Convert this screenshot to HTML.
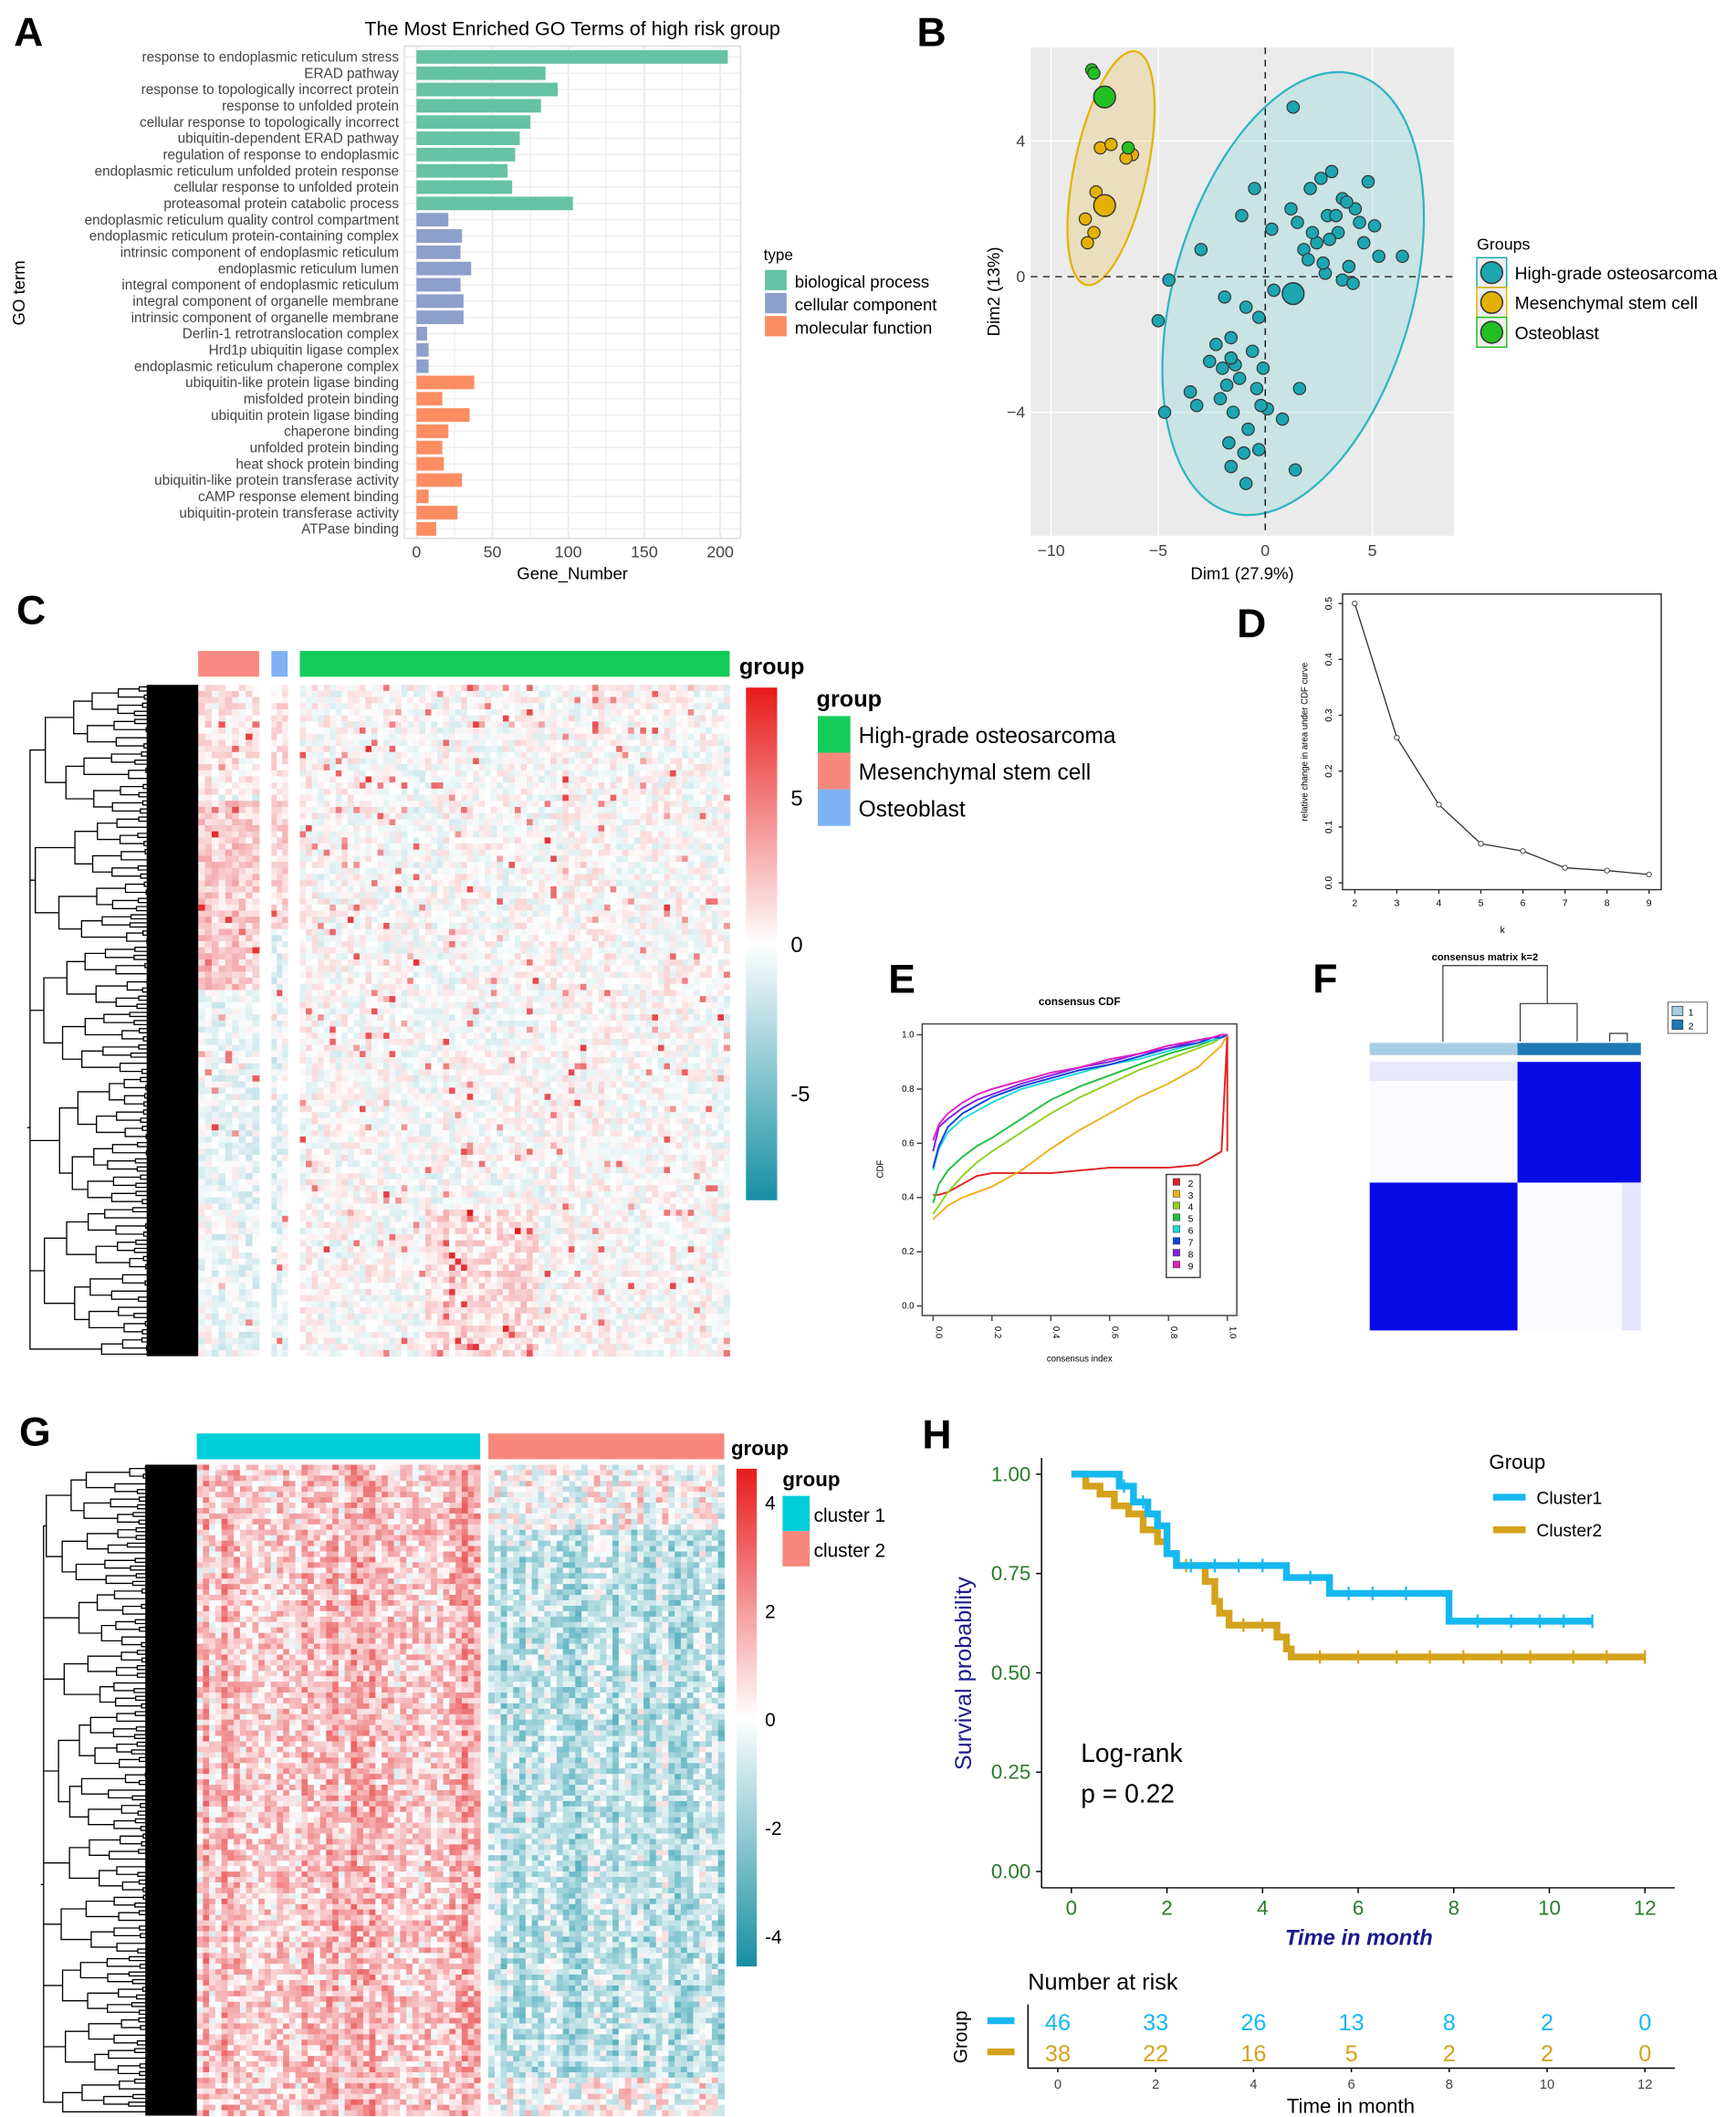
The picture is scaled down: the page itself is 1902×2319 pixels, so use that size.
<!DOCTYPE html>
<html><head><meta charset="utf-8"><style>
html,body{margin:0;padding:0;background:#fff}
svg{display:block}
text{font-family:"Liberation Sans",Arial,sans-serif}
</style></head><body>
<svg id="fig" width="1902" height="2319" viewBox="0 0 1280 1561" xmlns="http://www.w3.org/2000/svg">
<g id="gA"></g>
<g id="gB"></g>
<g id="gC"></g>
<g id="gD"></g>
<g id="gE"></g>
<g id="gF"></g>
<g id="gG"></g>
<g id="gH"></g>
</svg>
<script>
// ---------- data ----------
const goTerms = ["response to endoplasmic reticulum stress","ERAD pathway","response to topologically incorrect protein","response to unfolded protein","cellular response to topologically incorrect","ubiquitin-dependent ERAD pathway","regulation of response to endoplasmic","endoplasmic reticulum unfolded protein response","cellular response to unfolded protein","proteasomal protein catabolic process","endoplasmic reticulum quality control compartment","endoplasmic reticulum protein-containing complex","intrinsic component of endoplasmic reticulum","endoplasmic reticulum lumen","integral component of endoplasmic reticulum","integral component of organelle membrane","intrinsic component of organelle membrane","Derlin-1 retrotranslocation complex","Hrd1p ubiquitin ligase complex","endoplasmic reticulum chaperone complex","ubiquitin-like protein ligase binding","misfolded protein binding","ubiquitin protein ligase binding","chaperone binding","unfolded protein binding","heat shock protein binding","ubiquitin-like protein transferase activity","cAMP response element binding","ubiquitin-protein transferase activity","ATPase binding"];
const goCounts = [205,85,93,82,75,68,65,60,63,103,21,30,29,36,29,31,31,7,8,8,38,17,35,21,17,18,30,8,27,13];
const goTypes = [0,0,0,0,0,0,0,0,0,0,1,1,1,1,1,1,1,1,1,1,2,2,2,2,2,2,2,2,2,2];
const goTicks = [0,50,100,150,200];

const pcaHGx=[-0.5,1.2,2.1,2.6,3.1,3.6,2.9,4.2,4.8,3.4,2.4,1.8,2.8,3.9,4.4,5.3,1.5,2.2,3.3,3.8,2.7,4.6,5.1,6.4,3.0,2.0,3.6,4.1,-1.1,-3.0,-4.5,0.3,-1.9,-0.9,-0.3,0.4,-1.6,-2.3,-1.4,-0.6,-0.1,-2.6,-1.8,-0.4,-1.2,0.1,-2.1,-3.2,-1.5,0.8,1.6,-0.8,-1.0,-0.3,-1.6,-3.5,-4.7,-5.0,-2.0,-0.9,-1.7,1.4,-1.6,1.3,-0.2];
const pcaHGy=[2.6,2.0,2.6,2.9,3.1,2.3,1.8,2.0,2.8,1.3,1.0,0.8,0.1,0.3,1.6,0.6,1.6,1.3,1.8,2.2,0.4,1.0,1.5,0.6,1.1,0.5,-0.1,-0.2,1.8,0.8,-0.1,1.4,-0.6,-0.9,-1.2,-0.4,-1.8,-2.0,-2.6,-2.2,-2.7,-2.5,-3.2,-3.3,-3.0,-3.9,-3.6,-3.8,-4.0,-4.2,-3.3,-4.5,-5.2,-5.1,-5.6,-3.4,-4.0,-1.3,-2.7,-6.1,-4.9,-5.7,-2.4,5.0,-3.8];
const pcaMSx=[-7.7,-8.4,-8.3,-7.9,-6.2,-7.2,-6.5,-7.5,-8.0];
const pcaMSy=[3.8,1.7,1.0,2.5,3.6,3.9,3.5,2.1,1.3];
const pcaOBx=[-8.1,-8.0,-7.6,-6.4];
const pcaOBy=[6.1,6.0,5.3,3.8];
const pcaXTicks=[-10,-5,0,5];
const pcaYTicks=[4,0,-4];

const dK=[2,3,4,5,6,7,8,9];
const dVal=[0.5,0.26,0.14,0.07,0.057,0.027,0.022,0.015];
const dYTicks=[0,0.1,0.2,0.3,0.4,0.5];

const eX=[0,0.02,0.05,0.1,0.15,0.2,0.3,0.4,0.5,0.6,0.7,0.8,0.9,0.95,0.98,1.0];
const eK2=[0.41,0.41,0.42,0.45,0.48,0.49,0.49,0.49,0.5,0.51,0.51,0.51,0.52,0.55,0.57,1.0];
const eK3=[0.32,0.34,0.37,0.40,0.42,0.44,0.50,0.58,0.65,0.71,0.77,0.82,0.88,0.93,0.96,1.0];
const eK4=[0.34,0.37,0.42,0.48,0.53,0.57,0.64,0.71,0.77,0.82,0.87,0.91,0.95,0.97,0.99,1.0];
const eK5=[0.38,0.45,0.5,0.55,0.59,0.62,0.69,0.76,0.81,0.85,0.89,0.93,0.96,0.98,0.99,1.0];
const eK6=[0.50,0.58,0.64,0.69,0.72,0.75,0.8,0.83,0.86,0.89,0.91,0.94,0.97,0.98,0.99,1.0];
const eK7=[0.51,0.59,0.66,0.71,0.74,0.77,0.81,0.84,0.87,0.89,0.92,0.95,0.97,0.99,0.99,1.0];
const eK8=[0.57,0.66,0.69,0.73,0.76,0.78,0.82,0.85,0.88,0.9,0.93,0.95,0.98,0.99,1.0,1.0];
const eK9=[0.61,0.67,0.71,0.75,0.78,0.8,0.83,0.86,0.88,0.91,0.93,0.96,0.98,0.99,1.0,1.0];
const eTicks=[0,0.2,0.4,0.6,0.8,1.0];

const kmT1=[0,1.0,1.3,1.6,1.8,2.0,2.2,4.5,5.4,7.9,10.9];
const kmS1=[1,0.97,0.93,0.9,0.87,0.8,0.77,0.74,0.70,0.63,0.63];
const kmT2=[0,0.3,0.6,0.9,1.2,1.5,1.8,2.0,2.2,2.8,3.0,3.1,3.3,4.3,4.5,4.6,12];
const kmS2=[1,0.97,0.95,0.92,0.9,0.86,0.83,0.8,0.77,0.73,0.68,0.65,0.62,0.59,0.56,0.54,0.54];
const kmCens1=[1.1,1.5,2.5,3.0,3.5,4.0,5.0,5.8,6.3,7.0,8.5,9.2,9.8,10.3,10.9];
const kmCens2=[2.4,3.6,4.0,5.2,6.0,6.8,7.5,8.2,9.0,9.6,10.5,11.2,12];
const kmXTicks=[0,2,4,6,8,10,12];
const kmYTicks=[0,0.25,0.5,0.75,1.0];
const riskTimes=[0,2,4,6,8,10,12];
const risk1=[46,33,26,13,8,2,0];
const risk2=[38,22,16,5,2,2,0];

// ---------- helpers ----------
const NS="http://www.w3.org/2000/svg";
function mk(parent,tag,attrs,txt){const e=document.createElementNS(NS,tag);for(const k in attrs)e.setAttribute(k,attrs[k]);if(txt!==undefined)e.textContent=txt;parent.appendChild(e);return e;}
let seed=12345;function rnd(){seed=(seed*1103515245+12345)&0x7fffffff;return seed/0x7fffffff;}
function lin(d0,d1,r0,r1){return v=>r0+(v-d0)*(r1-r0)/(d1-d0);}

// ---------- Panel A ----------
(function(){
const g=document.getElementById('gA');
let t=mk(g,'text',{x:10,y:34,'font-size':30,'font-weight':'bold'},'A');

t=mk(g,'text',{x:422,y:26,'font-size':14.5,'text-anchor':'middle'},'The Most Enriched GO Terms of high risk group');

const x=lin(0,200,307,531);const y0=42,dy=12;
const bg=mk(g,'rect',{x:298,y:34,width:248,height:363,fill:'#fff',stroke:'#ddd'});

for(let i=0;i<goTicks.length;i++){mk(g,'line',{x1:x(goTicks[i]),x2:x(goTicks[i]),y1:34,y2:397,stroke:'#e6e6e6'});}
for(let i=0;i<goTicks.length-1;i++){const m=(goTicks[i]+goTicks[i+1])/2;mk(g,'line',{x1:x(m),x2:x(m),y1:34,y2:397,stroke:'#f2f2f2'});}
const cols=['#66c2a5','#8da0cb','#fc8d62'];
for(let i=0;i<goTerms.length;i++){
 const yy=y0+i*dy;
 mk(g,'line',{x1:298,x2:546,y1:yy,y2:yy,stroke:'#eee'});
 const b=mk(g,'rect',{x:x(0),y:yy-5,width:x(goCounts[i])-x(0),height:10,fill:cols[goTypes[i]]});
 
 const l=mk(g,'text',{x:294,y:yy+3.5,'font-size':10.3,'text-anchor':'end',fill:'#444'},goTerms[i]);
 
}
for(const v of goTicks){const l=mk(g,'text',{x:x(v),y:411,'font-size':12,'text-anchor':'middle',fill:'#444'},v);}
t=mk(g,'text',{x:422,y:427,'font-size':12.5,'text-anchor':'middle'},'Gene_Number');
t=mk(g,'text',{x:18,y:216,'font-size':12.5,'text-anchor':'middle',transform:'rotate(-90 18 216)'},'GO term');
t=mk(g,'text',{x:563,y:192,'font-size':11.5},'type');
const ln=['biological process','cellular component','molecular function'];
for(let i=0;i<3;i++){mk(g,'rect',{x:564,y:199+i*17,width:16,height:15,fill:cols[i]});
 const l=mk(g,'text',{x:586,y:212+i*17,'font-size':12.5},ln[i]);}
})();

// ---------- Panel B ----------
(function(){
const g=document.getElementById('gB');
let t=mk(g,'text',{x:676,y:34,'font-size':30,'font-weight':'bold'},'B');
const x=lin(0,5,933,1012),y=lin(0,4,204,104);
const bg=mk(g,'rect',{x:760,y:35,width:312,height:360,fill:'#ebebeb'});
for(const v of pcaXTicks)mk(g,'line',{x1:x(v),x2:x(v),y1:35,y2:395,stroke:'#fff','stroke-width':1});
for(const v of pcaYTicks)mk(g,'line',{x1:760,x2:1072,y1:y(v),y2:y(v),stroke:'#fff','stroke-width':1});
let e=mk(g,'ellipse',{cx:x(-7.2),cy:y(3.2),rx:27,ry:88,transform:`rotate(12 ${x(-7.2)} ${y(3.2)})`,fill:'#e8c15b','fill-opacity':0.3,stroke:'#e5b100','stroke-width':1.5});

e=mk(g,'ellipse',{cx:x(1.3),cy:y(-0.5),rx:88,ry:168,transform:`rotate(16 ${x(1.3)} ${y(-0.5)})`,fill:'#7fcfd6','fill-opacity':0.3,stroke:'#2bb5c0','stroke-width':1.5});

mk(g,'line',{x1:x(0),x2:x(0),y1:35,y2:395,stroke:'#222','stroke-dasharray':'5,4'});
mk(g,'line',{x1:760,x2:1072,y1:y(0),y2:y(0),stroke:'#222','stroke-dasharray':'5,4'});
function pts(xs,ys,fill,name){for(let i=0;i<xs.length;i++){const c=mk(g,'circle',{cx:x(xs[i]),cy:y(ys[i]),r:4.5,fill:fill,stroke:'#333','stroke-width':0.8});}}
pts(pcaHGx,pcaHGy,'#1ba6b1','point-high-grade');
pts(pcaMSx,pcaMSy,'#e5b100','point-msc');
pts(pcaOBx,pcaOBy,'#22c022','point-osteoblast');
let c=mk(g,'circle',{cx:x(1.3),cy:y(-0.5),r:8,fill:'#1ba6b1',stroke:'#333'});
c=mk(g,'circle',{cx:x(-7.5),cy:y(2.1),r:8,fill:'#e5b100',stroke:'#333'});
c=mk(g,'circle',{cx:x(-7.5),cy:y(5.3),r:8,fill:'#22c022',stroke:'#333'});
for(const v of pcaXTicks){const l=mk(g,'text',{x:x(v),y:410,'font-size':12,'text-anchor':'middle',fill:'#444'},v===0?'0':(v<0?'−'+(-v):v));}
for(const v of pcaYTicks){const l=mk(g,'text',{x:756,y:y(v)+4,'font-size':12,'text-anchor':'end',fill:'#444'},v<0?'−'+(-v):v);}
t=mk(g,'text',{x:916,y:427,'font-size':12.5,'text-anchor':'middle'},'Dim1 (27.9%)');
t=mk(g,'text',{x:737,y:215,'font-size':12.5,'text-anchor':'middle',transform:'rotate(-90 737 215)'},'Dim2 (13%)');
t=mk(g,'text',{x:1089,y:184,'font-size':12},'Groups');
const lc=[['#1ba6b1','High-grade osteosarcoma'],['#e5b100','Mesenchymal stem cell'],['#22c022','Osteoblast']];
for(let i=0;i<3;i++){const yy=201+i*22;mk(g,'rect',{x:1089,y:yy-11,width:22,height:22,fill:'#eee',stroke:lc[i][0]});mk(g,'circle',{cx:1100,cy:yy,r:8,fill:lc[i][0],stroke:'#333'});
 const l=mk(g,'text',{x:1117,y:yy+5,'font-size':13},lc[i][1]);}
})();

// ---------- heatmap helpers ----------
function cmap(v,max,neg){
 let r,gg,b;
 if(v>=0){const f=Math.min(1,v/max);r=255-(255-225)*f;gg=255-(255-20)*f;b=255-(255-25)*f;}
 else{const f=Math.min(1,-v/neg);r=255-(255-20)*f;gg=255-(255-145)*f;b=255-(255-165)*f;}
 return `rgb(${r|0},${gg|0},${b|0})`;
}
function dendro(g,x0,x1,y0,y1,n){
 // decorative dendrogram (texture)
 const leaves=[];for(let i=0;i<n;i++)leaves.push({y:y0+(i+0.5)*(y1-y0)/n,x:x1});
 let nodes=leaves;let path='';
 while(nodes.length>1){const nn=[];const L=nodes.length;for(let i=0;i<L;i+=2){if(i+1>=L){nn.push(nodes[i]);continue;}
  const a=nodes[i],b=nodes[i+1];
  const inc=L>150?14+rnd()*12:L>40?10+rnd()*12:L>8?8+rnd()*12:8+rnd()*10;
  const depth=Math.max(x0+2,Math.min(a.x,b.x)-inc);
  path+=`M${a.x},${a.y.toFixed(2)}H${depth.toFixed(1)}V${b.y.toFixed(2)}H${b.x}`;nn.push({x:depth,y:(a.y+b.y)/2});}
  nodes=nn;}
 if(nodes[0].x>x0)path+=`M${nodes[0].x},${nodes[0].y}H${x0}`;
 const bk=mk(g,'rect',{x:x1-38,y:y0,width:38,height:y1-y0,fill:'#000'});
 
 const p=mk(g,'path',{d:path,fill:'none',stroke:'#000','stroke-width':0.9});
 
}

// ---------- Panel C ----------
(function(){
const g=document.getElementById('gC');
let t=mk(g,'text',{x:12,y:460,'font-size':30,'font-weight':'bold'},'C');
let r=mk(g,'rect',{x:146,y:480,width:45,height:19,fill:'#f8766d','fill-opacity':0.85});
r=mk(g,'rect',{x:200,y:480,width:12,height:19,fill:'#7fb2f5'});
r=mk(g,'rect',{x:221,y:480,width:317,height:19,fill:'#12cc5a'});
t=mk(g,'text',{x:545,y:497,'font-size':17,'font-weight':'bold'},'group');
const hm=mk(g,'g',{});
const rows=110,y0=505,y1=1000,rh=(y1-y0)/rows;
const segs=[[146,191,9,1],[200,212,3,2],[221,538,72,0]];
for(const s of segs){const cw=(s[1]-s[0])/s[2];
 for(let c=0;c<s[2];c++){const cb=(rnd()-0.5)*0.6;for(let i=0;i<rows;i++){
  let v=(rnd()-0.5)*2.6+cb+(rnd()<0.03?3+rnd()*3:0);
  if(s[3]===1){ if(i<50&&i>18)v+=1.8; else if(i<18) v+=0.8; else v-=0.4;}
  if(s[3]===2){ v+= i<40?1.2:-0.6;}
  if(s[3]===0&&i>85&&c>20&&c<40)v+=1.2;
  mk(hm,'rect',{x:(s[0]+c*cw).toFixed(2),y:(y0+i*rh).toFixed(2),width:(cw+0.3).toFixed(2),height:(rh+0.3).toFixed(2),fill:cmap(v,8,8)});}}}
dendro(g,20,146,y0,y1,330);
const grad=mk(g,'defs',{});const lg=mk(grad,'linearGradient',{id:'gc',x1:0,y1:0,x2:0,y2:1});
mk(lg,'stop',{offset:'0','stop-color':'#e81a1a'});mk(lg,'stop',{offset:'0.5','stop-color':'#fff'});mk(lg,'stop',{offset:'1','stop-color':'#168fa3'});
r=mk(g,'rect',{x:550,y:507,width:23,height:378,fill:'url(#gc)'});
const lab=[['5',594],['0',702],['-5',812]];for(const l of lab){const e=mk(g,'text',{x:583,y:l[1],'font-size':16},l[0]);}
t=mk(g,'text',{x:602,y:521,'font-size':17,'font-weight':'bold'},'group');
const lc=[['#12cc5a','High-grade osteosarcoma'],['#f8877d','Mesenchymal stem cell'],['#7fb2f5','Osteoblast']];
for(let i=0;i<3;i++){mk(g,'rect',{x:603,y:528+i*27,width:24,height:27,fill:lc[i][0]});const l=mk(g,'text',{x:633,y:548+i*27,'font-size':16.5},lc[i][1]);}
})();

// ---------- Panel D ----------
(function(){
const g=document.getElementById('gD');
let t=mk(g,'text',{x:912,y:470,'font-size':30,'font-weight':'bold'},'D');
const x=lin(2,9,999,1216),y=lin(0,0.5,651,445);
let r=mk(g,'rect',{x:990,y:438,width:235,height:218,fill:'none',stroke:'#333'});
let d='';for(let i=0;i<dK.length;i++)d+=(i?'L':'M')+x(dK[i])+','+y(dVal[i]);
let p=mk(g,'path',{d:d,fill:'none',stroke:'#333','stroke-width':0.9});
for(let i=0;i<dK.length;i++){const c=mk(g,'circle',{cx:x(dK[i]),cy:y(dVal[i]),r:1.8,fill:'#fff',stroke:'#333','stroke-width':0.6});
 mk(g,'line',{x1:x(dK[i]),x2:x(dK[i]),y1:656,y2:659,stroke:'#333'});
 const l=mk(g,'text',{x:x(dK[i]),y:668,'font-size':7,'text-anchor':'middle'},dK[i]);}
for(const v of dYTicks){mk(g,'line',{x1:987,x2:990,y1:y(v),y2:y(v),stroke:'#333'});const l=mk(g,'text',{x:982,y:y(v),'font-size':7,'text-anchor':'middle',transform:`rotate(-90 982 ${y(v)})`},v.toFixed(1));}
t=mk(g,'text',{x:1108,y:688,'font-size':7,'text-anchor':'middle'},'k');
t=mk(g,'text',{x:964,y:547,'font-size':6.5,'text-anchor':'middle',transform:'rotate(-90 964 547)'},'relative change in area under CDF curve');
})();

// ---------- Panel E ----------
(function(){
const g=document.getElementById('gE');
let t=mk(g,'text',{x:655,y:732,'font-size':30,'font-weight':'bold'},'E');
t=mk(g,'text',{x:796,y:741,'font-size':8,'font-weight':'bold','text-anchor':'middle'},'consensus CDF');
const x=lin(0,1,688,905),y=lin(0,1,963,763);
let r=mk(g,'rect',{x:680,y:755,width:232,height:215,fill:'none',stroke:'#444'});
const series=[eK2,eK3,eK4,eK5,eK6,eK7,eK8,eK9];const cols=['#e02020','#f0b020','#90d020','#20c040','#20d8d8','#1040e0','#8020e0','#e020c0'];
for(let s=0;s<series.length;s++){let d='';for(let i=0;i<eX.length;i++)d+=(i?'L':'M')+x(eX[i]).toFixed(1)+','+y(series[s][i]).toFixed(1);
 if(s===0)d+='L'+x(1)+','+y(0.57);
 const p=mk(g,'path',{d:d,fill:'none',stroke:cols[s],'stroke-width':1.3});}
for(const v of eTicks){mk(g,'line',{x1:x(v),x2:x(v),y1:970,y2:974,stroke:'#444'});const l=mk(g,'text',{x:x(v)+2,y:978,'font-size':6.5,transform:`rotate(90 ${x(v)+2} 978)`},v.toFixed(1));
 mk(g,'line',{x1:676,x2:680,y1:y(v),y2:y(v),stroke:'#444'});const l2=mk(g,'text',{x:674,y:y(v)+2,'font-size':6.5,'text-anchor':'end'},v.toFixed(1));}
t=mk(g,'text',{x:796,y:1004,'font-size':6.5,'text-anchor':'middle'},'consensus index');
t=mk(g,'text',{x:651,y:862,'font-size':6.5,'text-anchor':'middle',transform:'rotate(-90 651 862)'},'CDF');
r=mk(g,'rect',{x:860,y:866,width:25,height:76,fill:'#fff',stroke:'#444'});
for(let i=0;i<8;i++){mk(g,'rect',{x:865,y:869+i*8.7,width:5,height:5,fill:cols[i],stroke:'#444','stroke-width':0.4});const l=mk(g,'text',{x:876,y:875+i*8.7,'font-size':7},i+2);}
})();

// ---------- Panel F ----------
(function(){
const g=document.getElementById('gF');
let t=mk(g,'text',{x:968,y:732,'font-size':30,'font-weight':'bold'},'F');
t=mk(g,'text',{x:1095,y:708,'font-size':7.5,'font-weight':'bold','text-anchor':'middle'},'consensus matrix k=2');
let p=mk(g,'path',{d:'M1064,768V712H1141V740M1121,768V740H1163V768M1187,768V762H1200V768',fill:'none',stroke:'#333','stroke-width':0.8});
let r=mk(g,'rect',{x:1010,y:769,width:109,height:9,fill:'#a6cde6'});
r=mk(g,'rect',{x:1119,y:769,width:91,height:9,fill:'#1f78b4'});
mk(g,'rect',{x:1010,y:781,width:200,height:200,fill:'#fafaff'});
r=mk(g,'rect',{x:1010,y:783,width:109,height:14,fill:'#e8e8fb'});
r=mk(g,'rect',{x:1119,y:783,width:91,height:89,fill:'#0a0ae6'});
r=mk(g,'rect',{x:1010,y:872,width:109,height:109,fill:'#0a0ae6'});
mk(g,'rect',{x:1196,y:872,width:14,height:109,fill:'#e6e6fa'});
mk(g,'rect',{x:1233,y:742,width:8,height:7,fill:'#a6cde6',stroke:'#333','stroke-width':0.5});mk(g,'rect',{x:1233,y:752,width:8,height:7,fill:'#1f78b4',stroke:'#333','stroke-width':0.5});
mk(g,'rect',{x:1230,y:739,width:29,height:23,fill:'none',stroke:'#333','stroke-width':0.5});
let l=mk(g,'text',{x:1245,y:749,'font-size':7},'1');
l=mk(g,'text',{x:1245,y:759,'font-size':7},'2');
})();

// ---------- Panel G ----------
(function(){
const g=document.getElementById('gG');
let t=mk(g,'text',{x:14,y:1066,'font-size':30,'font-weight':'bold'},'G');
let r=mk(g,'rect',{x:145,y:1057,width:209,height:19,fill:'#00ced8'});
r=mk(g,'rect',{x:360,y:1057,width:174,height:19,fill:'#f8877d'});
t=mk(g,'text',{x:539,y:1073,'font-size':15,'font-weight':'bold'},'group');
const hm=mk(g,'g',{});
const rows=120,y0=1080,y1=1560,rh=(y1-y0)/rows;
const segs=[[145,354,46,1],[360,534,38,-1]];
for(const s of segs){const cw=(s[1]-s[0])/s[2];
 for(let c=0;c<s[2];c++){const cb=(rnd()-0.3)*1.4;for(let i=0;i<rows;i++){
  let v=(rnd()-0.5)*2.6+s[3]*(0.9+cb);
  if(s[3]<0&&(i<12||i>112))v+=1.2;
  mk(hm,'rect',{x:(s[0]+c*cw).toFixed(2),y:(y0+i*rh).toFixed(2),width:(cw+0.3).toFixed(2),height:(rh+0.3).toFixed(2),fill:cmap(v,4.5,4.5)});}}}
dendro(g,30,145,y0,y1,340);
const d=mk(g,'defs',{});const lg=mk(d,'linearGradient',{id:'gg',x1:0,y1:0,x2:0,y2:1});
mk(lg,'stop',{offset:'0','stop-color':'#e81a1a'});mk(lg,'stop',{offset:'0.5','stop-color':'#fff'});mk(lg,'stop',{offset:'1','stop-color':'#168fa3'});
r=mk(g,'rect',{x:543,y:1083,width:15,height:367,fill:'url(#gg)'});
const lab=[['4',1113],['2',1193],['0',1273],['-2',1353],['-4',1433]];for(const l of lab){const e=mk(g,'text',{x:564,y:l[1],'font-size':14},l[0]);}
t=mk(g,'text',{x:577,y:1096,'font-size':15,'font-weight':'bold'},'group');
mk(g,'rect',{x:577,y:1103,width:20,height:26,fill:'#00ced8'});mk(g,'rect',{x:577,y:1129,width:20,height:26,fill:'#f8877d'});
let l=mk(g,'text',{x:600,y:1122,'font-size':14},'cluster 1');
l=mk(g,'text',{x:600,y:1148,'font-size':14},'cluster 2');
})();

// ---------- Panel H ----------
(function(){
const g=document.getElementById('gH');
let t=mk(g,'text',{x:680,y:1068,'font-size':30,'font-weight':'bold'},'H');
const x=lin(0,12,790,1213),y=lin(0,1,1380,1087);
mk(g,'line',{x1:768,x2:768,y1:1075,y2:1392,stroke:'#000'});
mk(g,'line',{x1:768,x2:1235,y1:1392,y2:1392,stroke:'#000'});
for(const v of kmYTicks){mk(g,'line',{x1:764,x2:768,y1:y(v),y2:y(v),stroke:'#000'});const l=mk(g,'text',{x:760,y:y(v)+5,'font-size':15,'text-anchor':'end',fill:'#2a7a2a'},v.toFixed(2));}
for(const v of kmXTicks){mk(g,'line',{x1:x(v),x2:x(v),y1:1392,y2:1396,stroke:'#000'});const l=mk(g,'text',{x:x(v),y:1412,'font-size':15,'text-anchor':'middle',fill:'#2a7a2a'},v);}
t=mk(g,'text',{x:1002,y:1434,'font-size':16,'font-weight':'bold','font-style':'italic','text-anchor':'middle',fill:'#1a1a8c'},'Time in month');
t=mk(g,'text',{x:716,y:1234,'font-size':17,'text-anchor':'middle',fill:'#1a1a8c',transform:'rotate(-90 716 1234)'},'Survival probability');
function step(T,S,col,name,cens){let d='M'+x(T[0])+','+y(S[0]);for(let i=1;i<T.length;i++)d+='H'+x(T[i]).toFixed(1)+'V'+y(S[i]).toFixed(1);
 const p=mk(g,'path',{d:d,fill:'none',stroke:col,'stroke-width':5});
 for(const c of cens){let s=S[0];for(let i=0;i<T.length;i++)if(T[i]<=c)s=S[i];const m=mk(g,'line',{x1:x(c),x2:x(c),y1:y(s)-5,y2:y(s)+5,stroke:col,'stroke-width':1.5});}}
step(kmT2,kmS2,'#d4a21c','km-curve-cluster2',kmCens2);
step(kmT1,kmS1,'#16b8f0','km-curve-cluster1',kmCens1);
t=mk(g,'text',{x:1098,y:1083,'font-size':15},'Group');
mk(g,'line',{x1:1101,x2:1125,y1:1104,y2:1104,stroke:'#16b8f0','stroke-width':5});mk(g,'line',{x1:1101,x2:1125,y1:1128,y2:1128,stroke:'#d4a21c','stroke-width':5});
let l=mk(g,'text',{x:1133,y:1109,'font-size':13},'Cluster1');
l=mk(g,'text',{x:1133,y:1133,'font-size':13},'Cluster2');
t=mk(g,'text',{x:797,y:1299,'font-size':19},'Log-rank');
t=mk(g,'text',{x:797,y:1329,'font-size':19},'p = 0.22');
const rx=lin(0,12,780,1213);
t=mk(g,'text',{x:758,y:1467,'font-size':17},'Number at risk');
mk(g,'line',{x1:758,x2:758,y1:1478,y2:1525,stroke:'#000'});mk(g,'line',{x1:758,x2:1235,y1:1525,y2:1525,stroke:'#000'});
mk(g,'line',{x1:728,x2:748,y1:1490,y2:1490,stroke:'#16b8f0','stroke-width':5});mk(g,'line',{x1:728,x2:748,y1:1513,y2:1513,stroke:'#d4a21c','stroke-width':5});
t=mk(g,'text',{x:713,y:1502,'font-size':14,'text-anchor':'middle',transform:'rotate(-90 713 1502)'},'Group');
for(let i=0;i<riskTimes.length;i++){
 const xx=rx(riskTimes[i]);
 let a=mk(g,'text',{x:xx,y:1497,'font-size':17,'text-anchor':'middle',fill:'#16b8f0'},risk1[i]);
 a=mk(g,'text',{x:xx,y:1520,'font-size':17,'text-anchor':'middle',fill:'#d4a21c'},risk2[i]);
 mk(g,'line',{x1:xx,x2:xx,y1:1525,y2:1528,stroke:'#000'});
 a=mk(g,'text',{x:xx,y:1540,'font-size':10,'text-anchor':'middle',fill:'#444'},riskTimes[i]);}
t=mk(g,'text',{x:996,y:1558,'font-size':15,'text-anchor':'middle'},'Time in month');
})();
</script>
</body></html>
